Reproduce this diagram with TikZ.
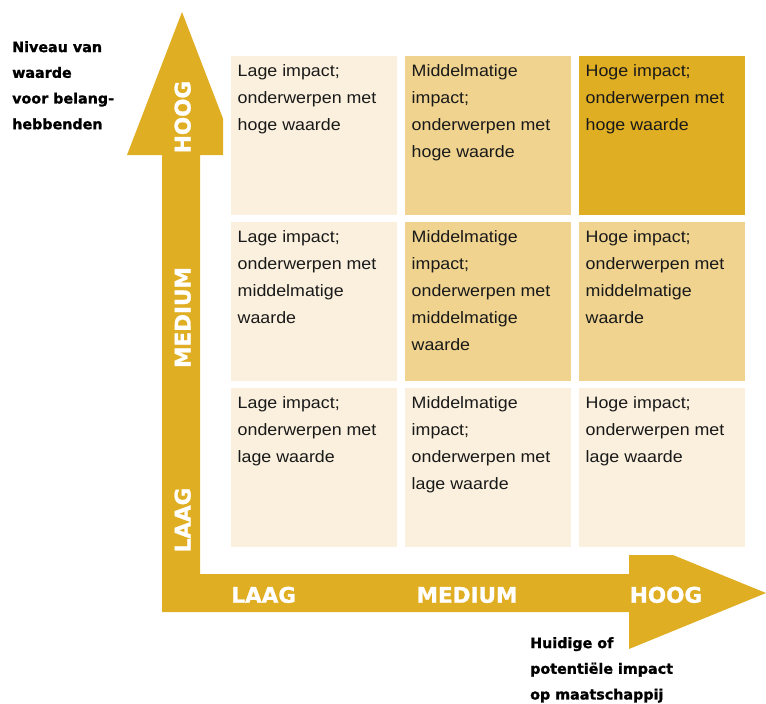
\documentclass[tikz,border=0pt]{standalone}
\usepackage{fontspec}
\setmainfont{Liberation Sans}[FakeStretch=1.08]
\newfontfamily\heavyfont{DejaVu Sans}[BoldFeatures={FakeBold=1.2}]
\usetikzlibrary{calc}
\definecolor{gold}{RGB}{224,174,35}
\definecolor{cellmid}{RGB}{239,211,143}
\definecolor{celllight}{RGB}{250,240,221}
\definecolor{celldark}{RGB}{224,174,35}
\begin{document}
\begin{tikzpicture}[x=1pt,y=-1pt,
 cell/.style={draw=none, inner sep=0pt, minimum width=166pt, minimum height=158.5pt, anchor=north west},
 celltext/.style={anchor=north west, inner sep=0pt, align=left, font=\fontsize{16.5}{27}\selectfont, text=black!90},
 axislab/.style={text=white, inner sep=0pt, anchor=base, font=\heavyfont\bfseries\fontsize{21.5}{24}\selectfont},
 sidelab/.style={anchor=north west, inner sep=0pt, align=left, text=black, font=\heavyfont\bfseries\fontsize{14.3}{25.7}\selectfont}]
\useasboundingbox (0,0) rectangle (766,704);
% L-shaped axis arrows
\fill[gold] (162,155) -- (127,155) -- (182,12) -- (223,118.6) -- (223,155) -- (200,155)
  -- (200,574) -- (629,574) -- (629,555) -- (673,555) -- (766,593) -- (629,649)
  -- (629,612) -- (162,612) -- cycle;
% cells
\node[cell, fill=celllight] (c11) at (231,56) {};
\node[cell, fill=cellmid]   (c12) at (405,56) {};
\node[cell, fill=celldark]  (c13) at (579,56) {};
\node[cell, fill=celllight] (c21) at (231,222) {};
\node[cell, fill=cellmid]   (c22) at (405,222) {};
\node[cell, fill=cellmid]   (c23) at (579,222) {};
\node[cell, fill=celllight] (c31) at (231,388) {};
\node[cell, fill=celllight] (c32) at (405,388) {};
\node[cell, fill=celllight] (c33) at (579,388) {};
% cell texts
\node[celltext] (t11) at ($(c11.north west)+(6.5,8)$) {Lage impact;\\onderwerpen met\\hoge waarde};
\node[celltext] (t12) at ($(c12.north west)+(6.5,8)$) {Middelmatige\\impact;\\onderwerpen met\\hoge waarde};
\node[celltext] (t13) at ($(c13.north west)+(6.5,8)$) {Hoge impact;\\onderwerpen met\\hoge waarde};
\node[celltext] (t21) at ($(c21.north west)+(6.5,8)$) {Lage impact;\\onderwerpen met\\middelmatige\\waarde};
\node[celltext] (t22) at ($(c22.north west)+(6.5,8)$) {Middelmatige\\impact;\\onderwerpen met\\middelmatige\\waarde};
\node[celltext] (t23) at ($(c23.north west)+(6.5,8)$) {Hoge impact;\\onderwerpen met\\middelmatige\\waarde};
\node[celltext] (t31) at ($(c31.north west)+(6.5,8)$) {Lage impact;\\onderwerpen met\\lage waarde};
\node[celltext] (t32) at ($(c32.north west)+(6.5,8)$) {Middelmatige\\impact;\\onderwerpen met\\lage waarde};
\node[celltext] (t33) at ($(c33.north west)+(6.5,8)$) {Hoge impact;\\onderwerpen met\\lage waarde};
% axis labels
\node[axislab] (xl) at (263.7,602.7) {LAAG};
\node[axislab] (xm) at (467,602.7) {MEDIUM};
\node[axislab] (xh) at (666,602.7) {HOOG};
\node[axislab, rotate=90] (yl) at (190.5,520) {LAAG};
\node[axislab, rotate=90] (ym) at (190.5,317.5) {MEDIUM};
\node[axislab, rotate=90] (yh) at (190.5,117) {HOOG};
% axis titles
\node[sidelab] (ytitle) at (12,41) {Niveau van\\waarde\\voor belang-\\hebbenden};
\node[sidelab] (xtitle) at (530,637) {Huidige of\\potentiële impact\\op maatschappij};
\end{tikzpicture}
\end{document}
